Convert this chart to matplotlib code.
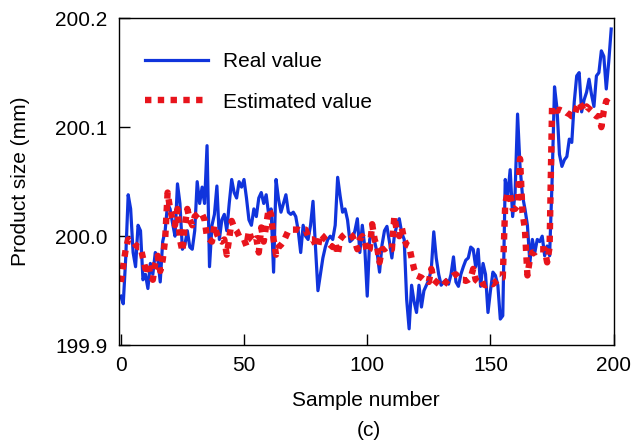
import matplotlib
matplotlib.use('Agg')
import matplotlib.pyplot as plt
from matplotlib.ticker import FormatStrFormatter

plt.rcParams['font.family'] = ['Liberation Sans', 'DejaVu Sans']

# product size readings, samples 0..199
real_value = [
    199.945, 199.938, 199.980, 200.038, 200.025, 199.985, 199.972, 200.010, 200.005, 199.960,
    199.965, 199.952, 199.975, 199.965, 199.985, 199.980, 199.958, 199.995, 200.005, 200.030,
    200.025, 200.012, 200.000, 200.048, 200.030, 199.988, 199.992, 200.005, 199.990, 199.988,
    200.005, 200.050, 200.030, 200.045, 200.030, 200.083, 199.972, 200.010, 200.020, 200.046,
    199.997, 200.015, 200.020, 200.005, 200.030, 200.052, 200.040, 200.035, 200.050, 200.045,
    200.052, 200.035, 200.015, 200.010, 200.025, 200.018, 200.035, 200.040, 200.030, 200.038,
    200.020, 200.025, 199.967, 200.052, 200.034, 200.022, 200.030, 200.038, 200.022, 200.020,
    200.022, 200.018, 200.005, 199.985, 200.010, 200.000, 199.997, 200.010, 200.032, 199.990,
    199.950, 199.965, 199.980, 199.990, 199.997, 200.000, 199.997, 200.010, 200.054, 200.037,
    200.022, 200.025, 200.015, 199.995, 199.997, 200.005, 200.016, 199.985, 200.010, 199.990,
    199.945, 199.997, 200.003, 199.995, 199.985, 199.967, 199.992, 200.005, 200.009, 199.995,
    199.980, 200.000, 200.010, 200.016, 200.003, 199.997, 199.942, 199.915, 199.955, 199.940,
    199.930, 199.955, 199.935, 199.950, 199.955, 199.960, 199.970, 200.004, 199.980, 199.965,
    199.955, 199.958, 199.960, 199.956, 199.965, 199.981, 199.958, 199.954, 199.965, 199.972,
    199.978, 199.980, 199.990, 199.988, 199.972, 199.988, 199.954, 199.975, 199.965, 199.930,
    199.950, 199.967, 199.964, 199.955, 199.924, 199.927, 200.052, 200.037, 200.061, 200.018,
    200.040, 200.112, 200.064, 200.037, 200.025, 200.010, 199.976, 199.997, 199.985, 199.997,
    199.995, 200.000, 199.982, 199.991, 199.982, 200.050, 200.137, 200.117, 200.075, 200.064,
    200.070, 200.073, 200.089, 200.086, 200.123, 200.147, 200.150, 200.114, 200.125, 200.132,
    200.144, 200.130, 200.119, 200.147, 200.150, 200.170, 200.165, 200.135, 200.160, 200.190,
]

estimated_value = [
    199.958, 199.973, 199.988, 199.997, 199.995, 199.995, 199.992, 199.990, 199.990, 199.980,
    199.970, 199.975, 199.965, 199.960, 199.975, 199.982, 199.968, 199.978, 199.997, 200.040,
    200.025, 200.015, 200.010, 200.025, 199.997, 199.986, 200.010, 200.025, 200.015, 200.010,
    200.018, 200.020, 200.022, 200.020, 200.015, 199.999, 199.997, 199.995, 200.010, 200.002,
    199.997, 199.995, 199.997, 199.983, 199.998, 200.014, 200.008, 200.005, 200.000, 199.998,
    199.997, 199.991, 200.005, 199.997, 199.995, 199.998, 199.985, 200.008, 199.995, 200.010,
    200.025, 200.020, 199.997, 199.983, 199.990, 199.992, 199.995, 200.000, 200.005, 200.006,
    200.006, 200.006, 200.006, 200.005, 200.006, 200.006, 200.000, 199.997, 199.997, 199.992,
    199.990, 200.002, 200.000, 199.997, 199.995, 199.992, 199.990, 199.995, 199.983, 199.997,
    200.000, 200.002, 200.002, 200.002, 200.000, 199.995, 199.988, 199.997, 200.000, 199.995,
    199.985, 199.988, 200.011, 199.997, 199.990, 199.976, 199.988, 199.988, 199.990, 199.988,
    199.988, 200.018, 200.005, 200.000, 200.008, 199.997, 199.992, 199.991, 199.980, 199.970,
    199.964, 199.963, 199.962, 199.960, 199.960, 199.958, 199.970, 199.960, 199.958, 199.956,
    199.954, 199.955, 199.958, 199.960, 199.962, 199.964, 199.965, 199.962, 199.960, 199.960,
    199.959, 199.960, 199.962, 199.970, 199.960, 199.958, 199.960, 199.956, 199.955, 199.956,
    199.957, 199.956, 199.958, 199.960, 199.962, 199.962, 200.030, 200.040, 200.038, 200.025,
    200.025, 200.028, 200.071, 200.022, 200.006, 199.964, 199.979, 199.985, 199.985, 199.988,
    199.988, 199.988, 199.988, 199.976, 199.990, 200.119, 200.118, 200.115, 200.116, 200.115,
    200.115, 200.113, 200.112, 200.110, 200.110, 200.118, 200.123, 200.119, 200.115, 200.119,
    200.117, 200.115, 200.112, 200.110, 200.110, 200.100, 200.115, 200.124, 200.122, 200.119,
]

samples = list(range(len(real_value)))
x_ticks = [0, 50, 100, 150, 200]
y_ticks = [199.9, 200.0, 200.1, 200.2]

fig = plt.figure(figsize=(6.32, 4.42), dpi=100)
ax = fig.add_axes([0.188, 0.219, 0.783, 0.740])

ax.plot(samples, real_value, color='#1034dc', lw=2.3, label='Real value')
ax.plot(samples, estimated_value, color='#e8141c', lw=4.6, ls=(0, (1, 1.0)),
        label='Estimated value')

ax.set_xlim(-0.8, 200)
ax.set_ylim(199.9, 200.2)
ax.set_xticks(x_ticks)
ax.set_yticks(y_ticks)
ax.yaxis.set_major_formatter(FormatStrFormatter('%.1f'))
ax.tick_params(direction='in', length=8, width=1, labelsize=15, top=False, right=False)
ax.tick_params(axis='x', pad=8)
ax.tick_params(axis='y', pad=8)
for s in ax.spines.values():
    s.set_linewidth(1)

ax.set_xlabel('Sample number', fontsize=15, labelpad=11)
ax.set_ylabel('Product size (mm)', fontsize=15, labelpad=18)
fig.text(0.583, 0.027, '(c)', fontsize=15, ha='center', va='center')

ax.legend(loc='upper left', bbox_to_anchor=(0.053, 0.895), frameon=False,
          fontsize=15, handlelength=3.0, handletextpad=0.72, labelspacing=1.02,
          borderpad=0, borderaxespad=0)

plt.savefig('out.png', dpi=100)
